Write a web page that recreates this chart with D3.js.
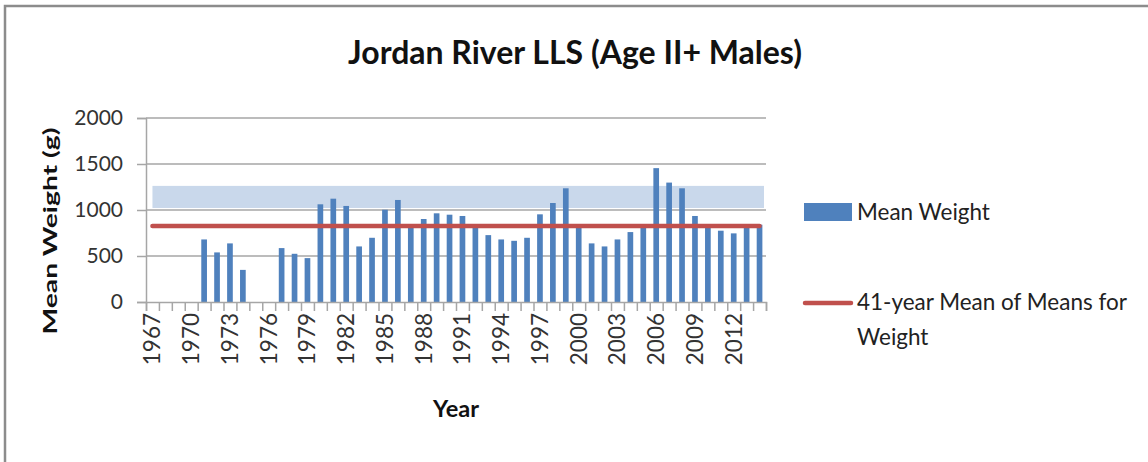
<!DOCTYPE html>
<html>
<head>
<meta charset="utf-8">
<script src="https://cdn.jsdelivr.net/npm/d3@7"></script>
<style>
  body { margin: 0; background: #fff; }
  svg { display: block; }
</style>
</head>
<body>
<div id="chart"></div>
<script>
// data
const years = d3.range(1967, 2015);
const meanWeight = [
    null, null, null, null, 680, 539, 637, 349, null, null,
    586, 524, 477, 1062, 1123, 1044, 604, 698, 1003, 1109,
    815, 902, 964, 949, 935, 820, 727, 680, 665, 698,
    953, 1076, 1236, 810, 637, 604, 680, 760, 830, 1455,
    1298, 1236, 935, 815, 775, 746, 830, 840
];
const meanOfMeans = 826;
const bandRange = [1022, 1262];
const yTicks = [0, 500, 1000, 1500, 2000];
const labelYears = years.filter((d, i) => i % 3 === 0 && d <= 2012);

const W = 1148, H = 462;
const plotLeft = 146, plotRight = 766, plotTop = 118, plotBottom = 302;
const font = "Lato, 'Open Sans', sans-serif";

const svg = d3.select("#chart").append("svg")
    .attr("width", W)
    .attr("height", H);

// outer frame (top and left edges only are visible)
svg.append("path")
    .attr("d", `M5,${H} L5,6 L${W},6`)
    .attr("fill", "none")
    .attr("stroke", "#8c8c8c")
    .attr("stroke-width", 2.5);

function fitWidth(sel, w) {
    const fs = parseFloat(sel.attr("font-size"));
    const len = sel.node().getComputedTextLength();
    sel.attr("font-size", fs * w / len);
}

const x = d3.scaleBand()
    .domain(years)
    .range([plotLeft, plotRight])
    .paddingInner(0.56)
    .paddingOuter(0.28);

const xIdx = d3.scaleLinear()
    .domain([0, years.length])
    .range([plotLeft, plotRight]);

const y = d3.scaleLinear()
    .domain([0, 2000])
    .range([plotBottom, plotTop]);

const cx = d => x(d) + x.bandwidth() / 2;

// gridlines
svg.append("g")
    .selectAll("line")
    .data(yTicks.slice(1))
    .enter().append("line")
    .attr("x1", plotLeft)
    .attr("x2", plotRight)
    .attr("y1", d => y(d))
    .attr("y2", d => y(d))
    .attr("stroke", "#a6a6a6")
    .attr("stroke-width", 1.5);

// shaded band
svg.append("rect")
    .attr("x", cx(years[0]))
    .attr("width", plotRight - 2 - cx(years[0]))
    .attr("y", y(bandRange[1]))
    .attr("height", y(bandRange[0]) - y(bandRange[1]))
    .attr("fill", "#c9d8eb");

// bars
const barData = years.map((d, i) => ({ year: d, value: meanWeight[i] }))
    .filter(d => d.value != null);

svg.append("g")
    .selectAll("rect")
    .data(barData)
    .enter().append("rect")
    .attr("x", d => x(d.year))
    .attr("width", x.bandwidth())
    .attr("y", d => y(d.value))
    .attr("height", d => y(0) - y(d.value))
    .attr("fill", "#4f81bd");

// mean of means line
svg.append("line")
    .attr("x1", cx(years[0]))
    .attr("x2", cx(years[years.length - 1]))
    .attr("y1", y(meanOfMeans))
    .attr("y2", y(meanOfMeans))
    .attr("stroke", "#c0504d")
    .attr("stroke-width", 4.5)
    .attr("stroke-linecap", "round");

// y axis
const yAxis = svg.append("g")
    .attr("transform", `translate(${plotLeft},0)`)
    .call(d3.axisLeft(y).tickValues(yTicks).tickSize(9).tickPadding(14).tickFormat(d3.format("d")));
yAxis.select(".domain").attr("stroke", "#a6a6a6").attr("stroke-width", 1.5);
yAxis.selectAll(".tick line").attr("stroke", "#a6a6a6").attr("stroke-width", 1.5);
yAxis.selectAll(".tick text")
    .attr("font-family", font)
    .attr("font-size", 21)
    .attr("fill", "#333");

// x axis: ticks between categories
const xAxis = svg.append("g")
    .attr("transform", `translate(0,${plotBottom})`)
    .call(d3.axisBottom(xIdx).tickValues(d3.range(years.length + 1)).tickSize(9).tickFormat(""));
xAxis.select(".domain").attr("stroke", "#a6a6a6").attr("stroke-width", 1.5);
xAxis.selectAll(".tick line").attr("stroke", "#a6a6a6").attr("stroke-width", 1.5);

svg.append("g")
    .selectAll("text")
    .data(labelYears)
    .enter().append("text")
    .attr("transform", d => `translate(${cx(d)},${plotBottom + 11}) rotate(-90)`)
    .attr("text-anchor", "end")
    .attr("dy", "0.35em")
    .attr("font-family", font)
    .attr("font-size", 22.5)
    .attr("fill", "#333")
    .text(d => d);

// title
const title = svg.append("text")
    .attr("x", 575)
    .attr("y", 64)
    .attr("text-anchor", "middle")
    .attr("font-family", font)
    .attr("font-weight", "bold")
    .attr("font-size", 28)
    .attr("fill", "#111")
    .text("Jordan River LLS (Age II+ Males)");
fitWidth(title, 454);

// axis titles
svg.append("text")
    .attr("transform", "translate(57,231) rotate(-90)")
    .attr("text-anchor", "middle")
    .attr("font-family", font)
    .attr("font-weight", "bold")
    .attr("font-size", 19)
    .attr("textLength", 207)
    .attr("lengthAdjust", "spacingAndGlyphs")
    .attr("fill", "#111")
    .text("Mean Weight (g)");

const xTitle = svg.append("text")
    .attr("x", (plotLeft + plotRight) / 2)
    .attr("y", 417)
    .attr("text-anchor", "middle")
    .attr("font-family", font)
    .attr("font-weight", "bold")
    .attr("font-size", 20)
    .attr("fill", "#111")
    .text("Year");
fitWidth(xTitle, 46);

// legend
const lg = svg.append("g");
lg.append("rect")
    .attr("x", 804)
    .attr("y", 203)
    .attr("width", 48)
    .attr("height", 18)
    .attr("fill", "#4f81bd");
const t1 = lg.append("text")
    .attr("x", 857)
    .attr("y", 220)
    .attr("font-family", font)
    .attr("font-size", 22)
    .attr("fill", "#222")
    .text("Mean Weight");
fitWidth(t1, 133);

lg.append("line")
    .attr("x1", 805)
    .attr("x2", 851)
    .attr("y1", 303)
    .attr("y2", 303)
    .attr("stroke", "#c0504d")
    .attr("stroke-width", 4.5)
    .attr("stroke-linecap", "round");
const t2 = lg.append("text")
    .attr("x", 857)
    .attr("y", 310)
    .attr("font-family", font)
    .attr("font-size", 22)
    .attr("fill", "#222")
    .text("41-year Mean of Means for");
fitWidth(t2, 270);
lg.append("text")
    .attr("x", 857)
    .attr("y", 345)
    .attr("font-family", font)
    .attr("font-size", t2.attr("font-size"))
    .attr("fill", "#222")
    .text("Weight");
</script>
</body>
</html>
